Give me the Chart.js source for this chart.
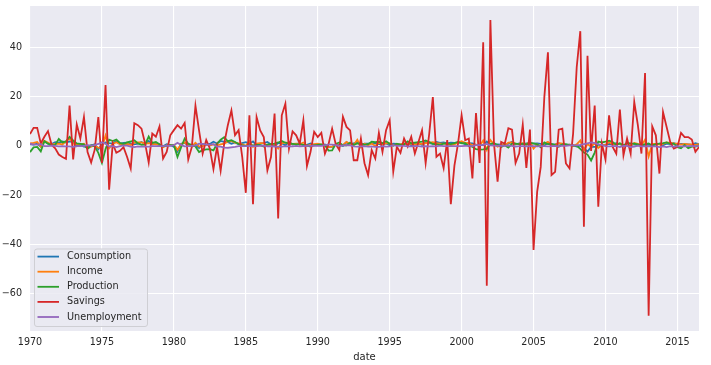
<!DOCTYPE html>
<html>
<head>
<meta charset="utf-8">
<script src="https://cdn.jsdelivr.net/npm/chart.js@4/dist/chart.umd.min.js"></script>
<style>
  html, body { margin: 0; padding: 0; background: #ffffff; }
  #wrap { position: relative; width: 711px; height: 365px; }
</style>
</head>
<body>
<div id="wrap"><canvas id="chart"></canvas></div>
<script>
// quarterly % changes, 1970 Q1 .. 2016 Q3 (one row per year)
const startYear = 1970;
const seriesNames = ['Consumption', 'Income', 'Production', 'Savings', 'Unemployment'];
const seriesColors = ['#1f77b4', '#ff7f0e', '#2ca02c', '#d62728', '#9467bd'];

const consumption = [
  0.6, 0.5, 0.9, -0.3,   1.9, 0.9, 0.8, 1.5,   1.3, 1.8, 1.4, 1.8,   1.5, -0.1, 0.4, -0.3,
  -0.5, 0.2, 0.7, -1.3,  0.6, 1.4, 1.1, 1.0,   2.0, 0.8, 1.2, 1.3,   1.0, 0.6, 0.9, 1.6,
  0.6, 2.0, 0.6, 0.8,    0.3, -0.1, 0.7, 0.3,  -0.3, -2.3, 0.9, 1.2, 0.3, -0.1, 0.4, -0.8,
  0.8, 0.4, 0.8, 1.7,    1.0, 2.0, 1.6, 1.6,   0.9, 1.4, 0.7, 1.1,   1.5, 0.9, 1.8, 0.2,
  0.9, 1.1, 1.6, 0.6,    0.0, 1.2, 1.1, 0.2,   1.6, 0.6, 0.8, 1.0,   0.2, 0.4, 1.0, 0.3,
  0.7, 0.3, 0.6, -0.5,   -0.4, 0.6, 0.4, 0.0,  1.5, 0.6, 1.0, 1.4,   0.3, 0.9, 0.9, 1.0,
  1.1, 0.7, 0.7, 1.0,    0.3, 0.9, 0.8, 0.6,   0.7, 1.1, 0.3, 0.8,   1.1, 0.4, 1.6, 1.1,
  0.9, 1.6, 1.2, 1.4,    1.0, 1.3, 1.2, 1.3,   1.4, 0.7, 1.1, 1.0,   0.4, 0.3, 0.3, 1.8,
  0.3, 0.4, 0.6, 0.5,    0.5, 0.9, 1.7, 0.6,   1.0, 0.6, 1.0, 1.1,   0.9, 1.0, 0.8, 0.3,
  1.1, 0.7, 0.6, 1.0,    0.6, 0.4, 0.5, 0.3,   -0.3, 0.1, -0.9, -2.3, -0.4, -0.4, 0.5, 0.0,
  0.5, 0.8, 0.7, 1.1,    0.6, 0.2, 0.2, 0.3,   0.6, 0.2, 0.3, 0.4,   0.4, 0.3, 0.5, 0.9,
  0.3, 0.9, 0.8, 1.1,    0.6, 0.8, 0.7, 0.6,   0.4, 1.1, 0.7
];

const income = [
  1.0, 1.2, 1.6, -0.3,   2.0, 1.4, 0.5, 0.8,   0.9, 0.6, 1.9, 3.0,   1.0, 0.7, 0.6, 0.9,
  -1.0, -0.3, 0.3, -0.8, -0.6, 4.2, -1.0, 0.8, 1.5, 0.7, 0.6, 0.8,   0.4, 1.3, 1.4, 1.4,
  0.9, 1.1, 0.8, 0.6,    0.7, -0.5, 0.2, 0.2,  0.5, -1.6, 0.6, 1.5,  0.2, -0.2, 1.3, -0.3,
  -0.1, 0.6, 0.1, 0.6,   0.2, 0.6, 0.9, 1.8,   2.0, 1.3, 1.0, 0.6,   0.0, 1.9, -0.4, 0.9,
  1.1, 1.1, 0.1, 0.2,    0.8, -1.0, 1.1, 1.3,  1.2, 0.8, 0.9, 0.7,   1.4, 0.0, 0.4, 0.7,
  0.9, 0.5, 0.0, -0.5,   -0.3, 0.5, 0.1, 0.4,  1.6, 0.7, 0.4, 2.5,   -0.5, 0.9, 0.3, 1.0,
  0.0, 1.3, 0.7, 1.1,    1.0, 0.3, 0.6, 0.6,   1.0, 0.8, 0.9, 0.6,   0.9, 0.8, 1.1, 1.3,
  1.5, 1.1, 0.9, 0.9,    0.8, 0.3, 0.6, 1.4,   1.9, 1.2, 1.1, 0.3,   0.5, 0.0, 2.2, -1.6,
  2.4, 0.6, -0.3, 0.4,   0.3, 1.3, 1.4, 0.9,   0.8, 1.1, 0.5, 1.9,   -1.1, 0.6, -0.2, 1.0,
  1.7, 0.3, 0.5, 1.1,    0.9, 0.3, 0.5, 0.0,   0.6, 2.2, -1.8, 0.8,  -0.4, 1.0, -0.8, 0.4,
  0.3, 1.6, 0.6, 0.6,    1.0, 0.0, 0.2, 0.2,   1.2, 0.8, 0.1, 2.5,   -4.3, 0.8, 0.8, 0.5,
  0.8, 1.4, 1.2, 1.0,    0.9, 0.5, 0.8, 0.6,   0.6, 0.4, 0.7
];

const production = [
  -2.5, -0.6, -0.4, -2.2, 1.9, 0.9, 0.3, 0.4,  2.8, 1.4, 1.8, 3.7,   2.2, 1.0, 0.8, 0.6,
  -1.2, 0.3, -0.2, -2.8, -6.9, -1.3, 2.5, 2.0, 2.6, 1.2, 0.8, 1.4,   1.8, 2.3, 1.0, 0.4,
  0.5, 3.8, 1.2, 1.6,    0.7, -0.2, 0.0, 0.3,  0.4, -4.5, -0.6, 3.0, 0.9, 0.3, -0.2, -2.5,
  -1.7, -1.4, -1.3, -1.8, 0.9, 2.5, 3.5, 1.9,  2.3, 1.6, 0.8, 0.2,   0.0, 0.2, 0.2, 0.4,
  0.3, -0.2, 0.5, 0.8,   0.9, 1.4, 2.0, 1.3,   1.0, 0.8, 0.6, 0.7,   0.4, 0.1, -0.3, 0.3,
  0.4, 0.6, 0.3, -1.9,   -1.8, 0.8, 1.4, 0.2,  0.2, 1.3, 0.4, 1.0,   0.9, 0.4, 0.7, 1.7,
  1.5, 1.7, 1.1, 1.9,    0.9, 0.1, 0.9, 0.4,   0.6, 1.9, 1.1, 1.3,   1.5, 1.7, 2.2, 1.6,
  0.8, 0.6, 0.4, 0.9,    1.0, 0.7, 1.1, 1.6,   1.0, 1.1, -0.1, -0.3, -1.3, -1.5, -1.4, -1.2,
  0.8, 1.1, 0.4, -0.4,   0.3, -0.7, 0.9, 0.9,  0.7, 0.9, 0.6, 1.2,   1.0, 0.6, -0.5, 1.4,
  0.7, 0.8, 0.3, -0.3,   0.6, 0.7, 0.3, 0.1,   0.0, -1.2, -2.7, -3.5, -5.9, -2.7, 1.8, 1.4,
  1.7, 2.1, 1.6, 0.4,    1.1, 0.2, 1.2, 1.0,   0.9, 0.6, 0.1, 0.7,   1.0, 0.2, 0.7, 0.9,
  1.1, 1.4, 0.8, 0.9,    -0.5, -0.9, 0.4, -0.9, -0.3, -0.3, 0.2
];

const savings = [
  4.8, 7.3, 7.3, 1.0,    3.7, 6.0, 0.5, -1.0,  -3.5, -4.5, -5.2, 16.4, -5.5, 8.7, 3.0, 11.7,
  -2.5, -6.7, -1.5, 11.7, -6.9, 24.7, -17.7, 1.0, -2.8, -2.0, -0.5, -4.5, -9.2, 9.2, 8.4, 7.0,
  1.0, -6.7, 5.0, 3.7,   7.9, -5.1, -2.4, 4.3, 6.4, 8.4, 7.0, 9.3,   -5.5, -0.4, 16.3, 6.3,
  -3.1, 2.4, -1.0, -9.4, -0.4, -10.1, 1.0, 8.4, 14.4, 4.4, 6.4, -4.4, -19.0, 12.4, -23.6, 11.7,
  6.3, 3.6, -9.9, -4.5,  13.1, -29.4, 12.4, 17.1, -1.1, 5.9, 4.3, 0.9, 10.4, -8.1, -2.4, 5.7,
  3.6, 5.3, -3.1, 0.7,   7.0, 0.7, -1.7, 11.8, 7.7, 6.3, -5.8, -5.8,  3.0, -7.0, -11.8, -1.7,
  -5.1, 5.3, -2.4, 6.4,  10.4, -10.4, -0.3, -2.8, 3.0, -0.3, 3.7, -3.1, 1.6, 6.4, -7.0, 5.0,
  19.8, -4.4, -3.1, -9.0, 2.4, -23.6, -8.0, 0.9, 12.4, 2.3, 3.0, -13.2, 13.3, -6.9, 42.0, -56.7,
  51.0, 0.9, -14.5, 1.6, 0.9, 7.2, 6.6, -6.9,  -3.1, 8.6, -8.9, 6.6,  -42.2, -18.6, -8.5, 19.8,
  37.9, -11.8, -10.5, 6.6, 7.0, -7.1, -9.1, 5.0, 31.9, 46.5, -32.7, 36.5, -2.0, 16.4, -24.6, 0.9,
  -5.5, 12.4, -0.4, -3.1, 14.7, -3.8, 3.0, -3.1, 17.8, 8.4, -3.1, 29.5, -68.8, 7.9, 4.3, -11.2,
  13.7, 7.7, 1.6, -1.1,  -0.4, 5.3, 3.6, 3.6,  2.6, -2.4, -0.4
];

const unemployment = [
  0.9, 0.5, 0.5, 0.7,    -0.1, -0.1, 0.1, 0.0, -0.2, -0.1, -0.2, -0.2, -0.4, -0.1, -0.1, 0.0,
  0.3, 0.1, 0.3, 0.8,    1.5, 0.9, -0.2, -0.1, -0.5, -0.1, 0.2, 0.1,  -0.3, -0.5, -0.2, -0.3,
  -0.3, -0.3, -0.1, -0.1, -0.1, -0.1, 0.1, 0.0, 0.3, 1.3, 0.4, -0.2,  -0.1, 0.0, 0.1, 0.9,
  0.8, 0.5, 0.5, 0.7,    -0.3, -0.3, -0.7, -0.8, -0.6, -0.4, -0.1, -0.1, -0.1, 0.0, -0.1, -0.1,
  0.0, 0.1, -0.2, -0.1,  -0.3, -0.3, -0.3, -0.1, -0.2, -0.2, 0.0, -0.2, -0.1, 0.0, 0.0, 0.1,
  0.0, 0.0, 0.3, 0.5,    0.5, 0.3, 0.0, 0.2,   0.3, 0.2, -0.2, -0.3,  -0.2, -0.1, -0.3, -0.2,
  -0.4, -0.4, -0.1, -0.3, -0.2, 0.3, 0.0, 0.0, 0.0, -0.2, -0.2, 0.0,  -0.1, -0.3, -0.1, -0.2,
  -0.1, -0.2, 0.1, -0.1, -0.1, -0.1, -0.1, -0.1, -0.1, 0.0, 0.0, -0.1, 0.3, 0.3, 0.4, 0.8,
  0.2, 0.1, 0.0, 0.1,    0.0, 0.2, 0.0, -0.3,  -0.1, -0.1, -0.2, -0.1, -0.1, -0.2, -0.1, -0.1,
  -0.2, -0.1, 0.0, -0.2, 0.1, 0.0, 0.2, 0.2,   0.2, 0.4, 0.7, 1.0,    1.4, 1.1, 0.6, 0.4,
  -0.1, -0.2, -0.1, 0.0, -0.5, 0.0, 0.0, -0.5, -0.3, 0.1, -0.2, -0.2, -0.1, -0.2, -0.2, -0.5,
  -0.2, -0.5, -0.1, -0.3, -0.1, -0.2, -0.2, -0.1, -0.1, -0.1, 0.0
];

const xTicks = [1970, 1975, 1980, 1985, 1990, 1995, 2000, 2005, 2010, 2015];
const yTicks = [-60, -40, -20, 0, 20, 40];

// quarter positions on the time axis
const dates = savings.map((_, i) => startYear + i / 4);
const allSeries = [consumption, income, production, savings, unemployment];

const textColor = '#262626';
const fontFamily = '"DejaVu Sans", sans-serif';

const plotBackground = {
    id: 'plotBackground',
    beforeDraw(chart) {
        const { ctx, chartArea: a } = chart;
        ctx.save();
        ctx.fillStyle = '#eaeaf2';
        ctx.fillRect(a.left, a.top, a.right - a.left, a.bottom - a.top);
        ctx.restore();
    }
};

// legend box in the lower left corner of the plot
const cornerLegend = {
    id: 'cornerLegend',
    afterDraw(chart) {
        const { ctx, chartArea: a } = chart;
        const x = a.left + 4.5, w = 113, rowH = 15.1, h = 77.5;
        const y = a.bottom - 4.5 - h;
        ctx.save();
        ctx.beginPath();
        ctx.roundRect(x, y, w, h, 2.5);
        ctx.fillStyle = 'rgba(234, 234, 242, 0.85)';
        ctx.fill();
        ctx.strokeStyle = '#cfcfd4';
        ctx.lineWidth = 1;
        ctx.stroke();
        ctx.font = '9.7px ' + fontFamily;
        ctx.textBaseline = 'middle';
        chart.data.datasets.forEach((ds, i) => {
            const cy = y + 7.6 + i * rowH;
            ctx.strokeStyle = ds.borderColor;
            ctx.lineWidth = 1.8;
            ctx.beginPath();
            ctx.moveTo(x + 3, cy);
            ctx.lineTo(x + 24.5, cy);
            ctx.stroke();
            ctx.fillStyle = textColor;
            ctx.fillText(ds.label, x + 32.5, cy);
        });
        ctx.restore();
    }
};

const onlyTicks = (list) => (scale) => {
    scale.ticks = list.map(v => ({ value: v }));
};

const canvas = document.getElementById('chart');
const chart = new Chart(canvas.getContext('2d'), {
    type: 'line',
    data: {
        datasets: seriesNames.map((name, i) => ({
            label: name,
            data: allSeries[i].map((v, j) => ({ x: dates[j], y: v })),
            borderColor: seriesColors[i],
            backgroundColor: seriesColors[i],
            borderWidth: 1.8,
            pointRadius: 0,
            tension: 0,
            fill: false,
            order: seriesNames.length - 1 - i
        }))
    },
    options: {
        responsive: true,
        maintainAspectRatio: false,
        animation: false,
        layout: { padding: { top: 6, right: 12, left: 0, bottom: 0 } },
        plugins: {
            legend: { display: false },
            tooltip: { enabled: false }
        },
        scales: {
            x: {
                type: 'linear',
                min: 1970,
                max: 2016.5,
                afterBuildTicks: onlyTicks(xTicks),
                afterFit: (scale) => {
                    scale.height = 34;
                    scale.paddingLeft = 0;
                    scale.paddingRight = 0;
                },
                grid: { color: '#ffffff', lineWidth: 1.1, drawTicks: false },
                border: { display: false },
                ticks: {
                    color: textColor,
                    padding: 6,
                    maxRotation: 0,
                    font: { family: fontFamily, size: 9.6 },
                    callback: (v) => String(v)
                },
                title: {
                    display: true,
                    text: 'date',
                    color: textColor,
                    font: { family: fontFamily, size: 10 },
                    padding: { top: 0, bottom: 2 }
                }
            },
            y: {
                min: -75,
                max: 56.7,
                afterBuildTicks: onlyTicks(yTicks),
                afterFit: (scale) => {
                    scale.width = 30;
                    scale.paddingTop = 0;
                    scale.paddingBottom = 0;
                },
                grid: { color: '#ffffff', lineWidth: 1.1, drawTicks: false },
                border: { display: false },
                ticks: {
                    color: textColor,
                    padding: 8,
                    font: { family: fontFamily, size: 9.6 },
                    callback: (v) => (v < 0 ? '\u2212' + Math.abs(v) : String(v))
                }
            }
        }
    },
    plugins: [plotBackground, cornerLegend]
});
</script>
</body>
</html>
